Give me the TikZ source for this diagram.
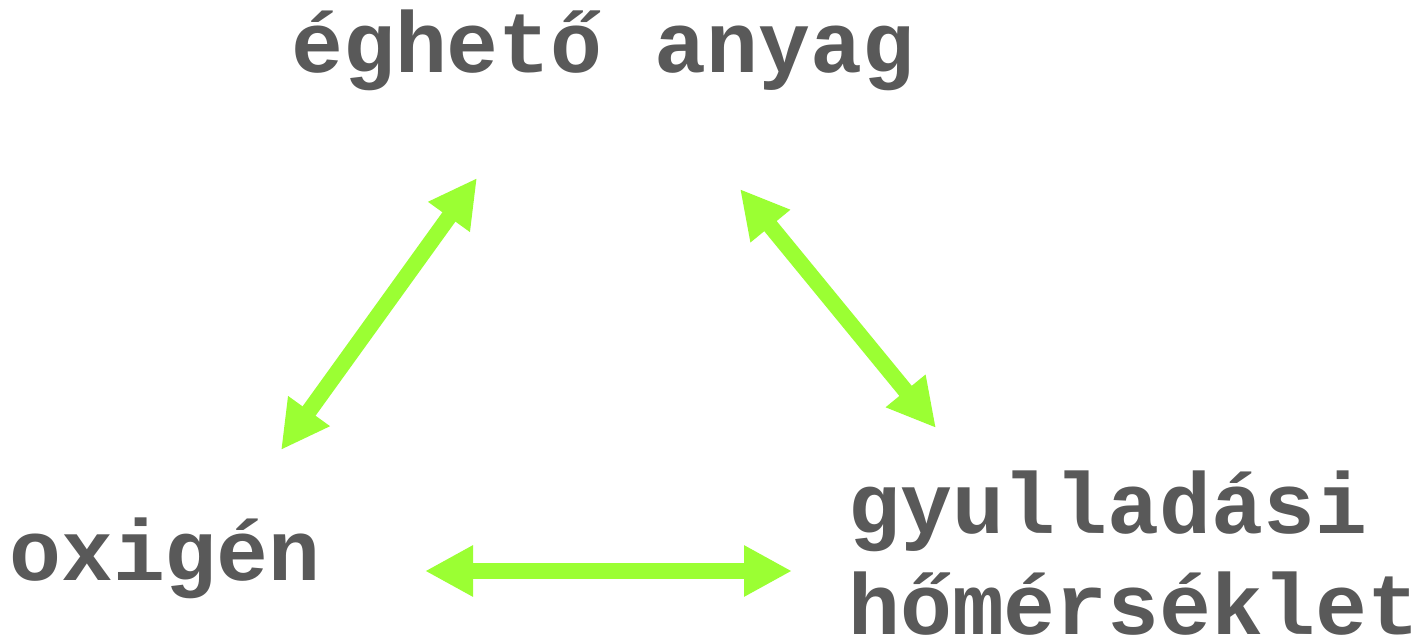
\documentclass[tikz,border=0pt]{standalone}
\usepackage{fontspec}
\setmonofont{Liberation Mono}
\usetikzlibrary{arrows.meta}
\definecolor{txtgray}{HTML}{595959}
\definecolor{arrgreen}{HTML}{9BFF33}
\begin{document}
\begin{tikzpicture}[x=1pt,y=1pt,
  lbl/.style={anchor=base west, inner sep=0pt, text=txtgray,
    font=\ttfamily\bfseries\fontsize{86.5}{102}\selectfont},
  dblarrow/.style={draw=arrgreen, line width=16pt,
    {Triangle[length=48pt,width=48pt,fill=arrgreen]}-{Triangle[length=48pt,width=48pt,fill=arrgreen]}}]
\useasboundingbox (0,0) rectangle (1422,641);
% labels
\node[lbl] (fuel) at (291,568) {éghető anyag};
\node[lbl] (oxy) at (9,61) {oxigén};
\node[lbl] (ign1) at (848,108) {gyulladási};
\node[lbl] (ign2) at (848,7) {hőmérséklet};
% arrow end points
\coordinate (a1) at (477,463);
\coordinate (a2) at (281,191);
\coordinate (b1) at (740,452);
\coordinate (b2) at (936,213);
\coordinate (c1) at (425,70);
\coordinate (c2) at (792,70);
% connectors
\draw[dblarrow] (a2) -- (a1);
\draw[dblarrow] (b1) -- (b2);
\draw[dblarrow] (c1) -- (c2);
\end{tikzpicture}
\end{document}
